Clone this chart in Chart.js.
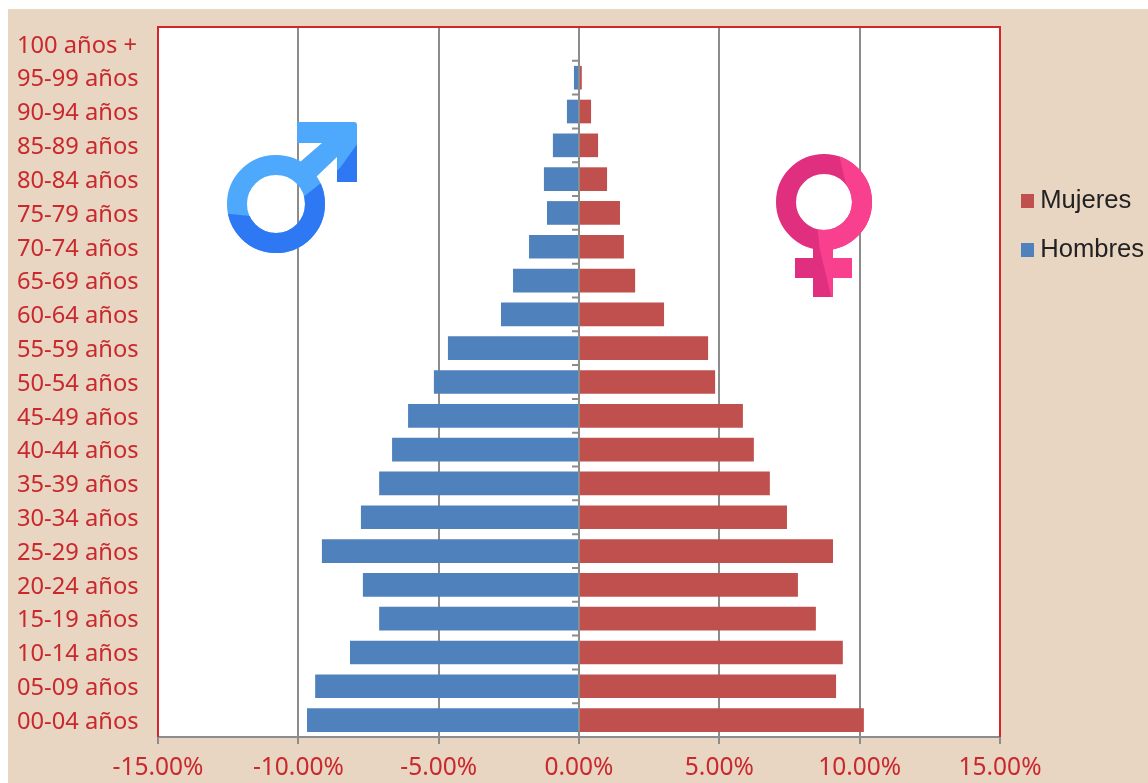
<!DOCTYPE html>
<html lang="es">
<head>
<meta charset="utf-8">
<title>Pirámide de población</title>
<script src="https://cdn.jsdelivr.net/npm/chart.js@4"></script>
<style>
  html, body { margin: 0; padding: 0; background: #fff; overflow: hidden; }
  #fondo { position: absolute; left: 8px; top: 9px; width: 1140px; height: 774px; background: #e8d5c2; }
  #caja { position: absolute; left: 0; top: 0; width: 1148px; height: 783px; }
  #simbolos { position: absolute; left: 0; top: 0; pointer-events: none; }
</style>
</head>
<body>
<div id="fondo"></div>
<div id="caja"><canvas id="piramide" width="1148" height="783"></canvas></div>

<!-- Símbolos de género -->
<svg id="simbolos" width="1148" height="783" xmlns="http://www.w3.org/2000/svg">
  <defs>
    <g id="marte">
      <circle cx="276" cy="204" r="39" fill="none" stroke-width="20" stroke="currentColor"/>
      <path fill="currentColor" d="M297 122 H354 Q357 122 357 125 V182 H337 V157 L315 178 L303 170 L300 162 L322 143 H297 Z"/>
    </g>
    <g id="venus">
      <circle cx="824" cy="202" r="38" fill="none" stroke-width="20" stroke="currentColor"/>
      <path fill="currentColor" d="M813 245 H833 V258 H852 V278 H833 V297 H813 V278 H795 V258 H813 Z"/>
    </g>
    <clipPath id="marteBajo"><polygon points="220,213 250,216 292,206 340,168 360,140 360,262 220,262"/></clipPath>
    <clipPath id="venusClaro"><polygon points="838,150 880,150 880,300 832,300 820,250 817,225 850,202"/></clipPath>
  </defs>
  <use href="#marte" color="#4ea8fb"/>
  <use href="#marte" color="#2f78f4" clip-path="url(#marteBajo)"/>
  <use href="#venus" color="#df2f7e"/>
  <use href="#venus" color="#f9408f" clip-path="url(#venusClaro)"/>
</svg>

<script>
/* ===== Datos ===== */
const GRUPOS = [
  '100 años +', '95-99 años', '90-94 años', '85-89 años', '80-84 años', '75-79 años', '70-74 años',
  '65-69 años', '60-64 años', '55-59 años', '50-54 años', '45-49 años', '40-44 años', '35-39 años',
  '30-34 años', '25-29 años', '20-24 años', '15-19 años', '10-14 años', '05-09 años', '00-04 años'
];
const HOMBRES = [
  0, -0.18, -0.43, -0.93, -1.25, -1.14, -1.78, -2.35, -2.78, -4.67, -5.17,
  -6.09, -6.66, -7.12, -7.77, -9.16, -7.7, -7.12, -8.16, -9.4, -9.69
];
const MUJERES = [
  0, 0.1, 0.43, 0.68, 1.0, 1.46, 1.6, 2.0, 3.03, 4.6, 4.85,
  5.84, 6.23, 6.8, 7.41, 9.05, 7.8, 8.44, 9.4, 9.16, 10.15
];

const ROJO = '#c9282d';
const GRIS = '#8c8c8c';
const AZUL = '#4f81bd';
const GRANATE = '#c0504d';
const FUENTE_EJES = "'Noto Sans', sans-serif";

// Cuadrito de la leyenda: como imagen para dejar el texto pegado a él
function cuadrito(color) {
  const c = document.createElement('canvas');
  c.width = 13;
  c.height = 14;
  const g = c.getContext('2d');
  g.fillStyle = color;
  g.fillRect(0, 0, 13, 14);
  return c;
}
const CUADROS = { Hombres: cuadrito(AZUL), Mujeres: cuadrito(GRANATE) };

/* Marco rojo, eje del cero y sus marcas */
const marcoPlugin = {
  id: 'marco',
  beforeDraw(chart) {
    const { ctx, chartArea: a, scales } = chart;
    ctx.save();
    ctx.fillStyle = '#fff';
    ctx.fillRect(a.left, a.top, a.right - a.left, a.bottom - a.top);
    ctx.restore();
    // Las etiquetas de edad van un poco más abajo que el centro de la barra
    scales.y.getLabelItems().forEach((item) => { item.textOffset = 2; });
  },
  afterDatasetsDraw(chart) {
    const { ctx, chartArea: a, scales } = chart;
    const cero = scales.x.getPixelForValue(0);
    const paso = scales.y.getPixelForValue(1) - scales.y.getPixelForValue(0);
    ctx.save();
    ctx.strokeStyle = GRIS;
    ctx.lineWidth = 2;
    ctx.beginPath();
    ctx.moveTo(cero, a.top);
    ctx.lineTo(cero, a.bottom);
    GRUPOS.forEach((_, i) => {
      const y = scales.y.getPixelForValue(i) - paso / 2;
      ctx.moveTo(cero - 7, y);
      ctx.lineTo(cero, y);
    });
    ctx.stroke();

    ctx.beginPath();
    ctx.moveTo(a.left, a.bottom);
    ctx.lineTo(a.right, a.bottom);
    ctx.stroke();

    ctx.strokeStyle = '#d2262b';
    ctx.beginPath();
    ctx.moveTo(a.left, a.bottom);
    ctx.lineTo(a.left, a.top);
    ctx.lineTo(a.right, a.top);
    ctx.lineTo(a.right, a.bottom);
    ctx.stroke();
    ctx.restore();
  },
  afterLayout(chart) {
    // La leyenda va junto al gráfico, a la altura de los símbolos
    const l = chart.legend;
    const alto = l.bottom - l.top;
    l.left = 1026.5 - l.options.labels.padding;
    l.top = 188 - l.options.labels.padding;
    l.bottom = l.top + alto;
  }
};

new Chart(document.getElementById('piramide'), {
  type: 'bar',
  data: {
    labels: GRUPOS,
    datasets: [
      { label: 'Hombres', data: HOMBRES, backgroundColor: AZUL, barPercentage: 0.7, categoryPercentage: 1 },
      { label: 'Mujeres', data: MUJERES, backgroundColor: GRANATE, barPercentage: 0.7, categoryPercentage: 1 }
    ]
  },
  options: {
    indexAxis: 'y',
    responsive: false,
    animation: false,
    layout: { padding: { left: 17, top: 27, right: 0, bottom: 0 } },
    plugins: {
      tooltip: { enabled: false },
      legend: {
        position: 'right',
        align: 'start',
        reverse: true,
        maxWidth: 148,
        labels: {
          usePointStyle: true,
          pointStyleWidth: 1,
          boxHeight: 14,
          padding: 24,
          color: '#222',
          font: { family: "'Liberation Sans', sans-serif", size: 25.6 },
          generateLabels(chart) {
            const items = Chart.defaults.plugins.legend.labels.generateLabels(chart);
            items.forEach((it) => { it.pointStyle = CUADROS[it.text]; });
            return items;
          }
        }
      }
    },
    scales: {
      x: {
        stacked: true,
        min: -15,
        max: 15,
        afterFit(scale) { scale.height = 46; },
        grid: { color: GRIS, lineWidth: 2, tickLength: 7, tickColor: GRIS },
        border: { display: false },
        ticks: {
          stepSize: 5,
          maxRotation: 0,
          padding: 9,
          color: ROJO,
          font: { family: FUENTE_EJES, size: 24.5 },
          callback: (v) => v.toFixed(2) + '%'
        }
      },
      y: {
        stacked: true,
        afterFit(scale) { scale.width = 141; },
        grid: { display: false },
        border: { display: false },
        ticks: {
          autoSkip: false,
          crossAlign: 'far',
          padding: 0,
          color: ROJO,
          font: { family: FUENTE_EJES, size: 23.7 }
        }
      }
    }
  },
  plugins: [marcoPlugin]
});
</script>
</body>
</html>
